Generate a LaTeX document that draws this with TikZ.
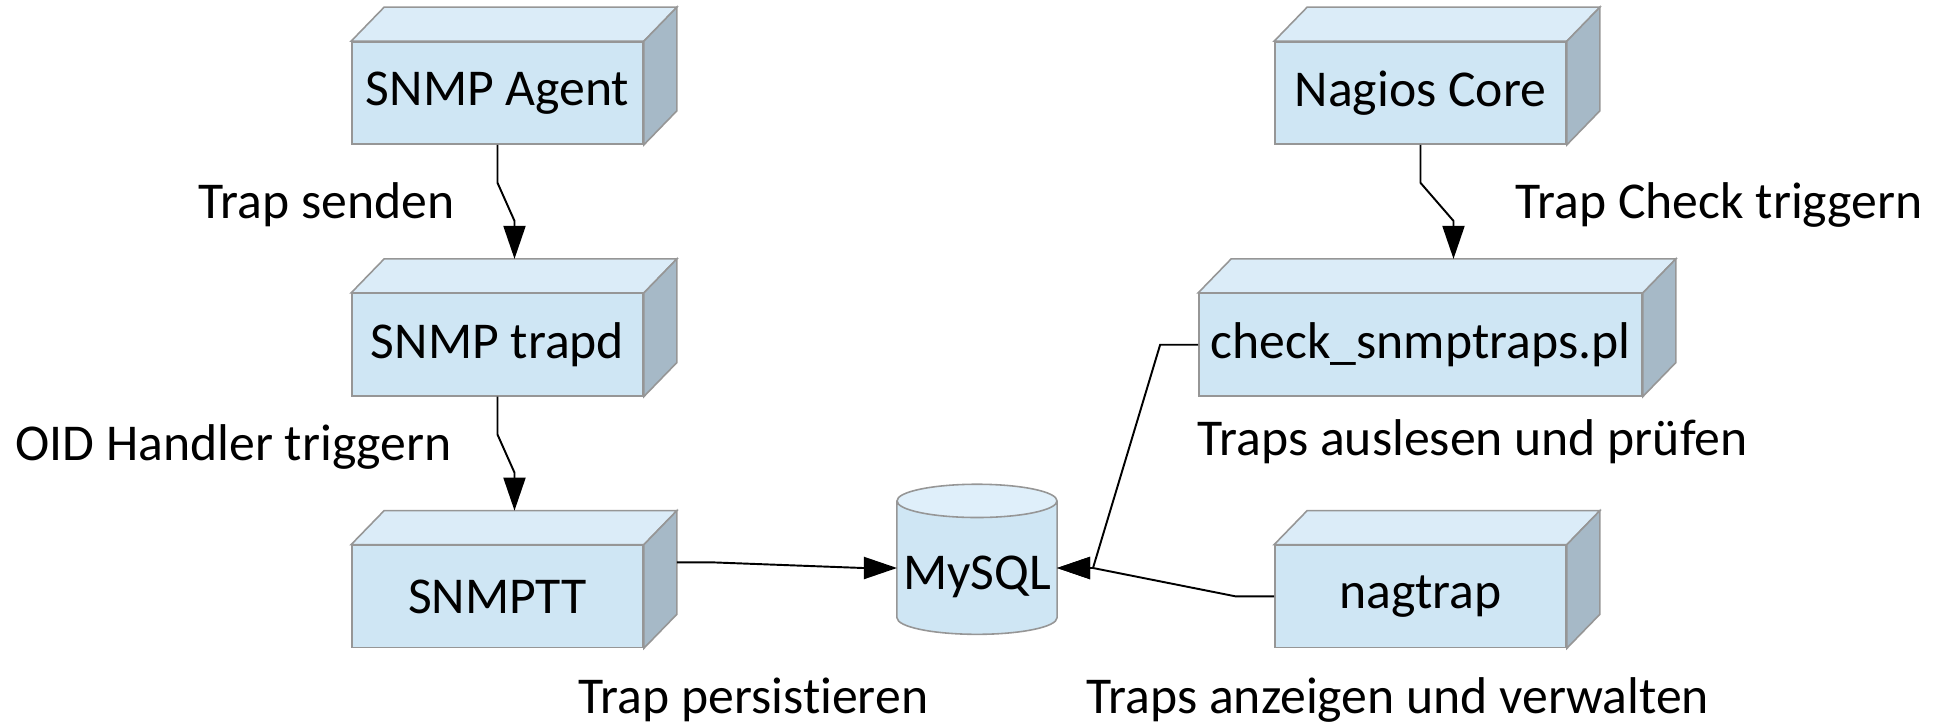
\documentclass[tikz,border=0pt]{standalone}
\usepackage{fontspec}
\setmainfont{Carlito}[Ligatures=NoCommon]
\usepackage{tikz}
\usetikzlibrary{positioning, arrows.meta, shapes.geometric}
\definecolor{boxfront}{RGB}{207,230,244}
\definecolor{boxtop}{RGB}{219,236,248}
\definecolor{boxside}{RGB}{166,185,199}
\definecolor{boxline}{RGB}{150,150,150}
\definecolor{dbtop}{RGB}{223,239,250}
\tikzset{
x=0.01cm, y=-0.01cm, % one unit is one pixel of the sketch, y runs downwards
>={Triangle[length=3.3mm, width=2.2mm]}, % big filled arrow heads
node distance=1.48cm, % gap between two blocks of one column
wire/.style={line width=0.55pt}, % the connectors
face/.style={draw=boxline, line width=0.45pt}, % top and side of a block
box/.style={face, fill=boxfront, minimum width=2.91cm, minimum height=1.02cm, font=\fontsize{14.7}{17}\selectfont}, % front of a block
db/.style={cylinder, shape border rotate=90, aspect=0.225, face, cylinder uses custom fill, cylinder body fill=boxfront, cylinder end fill=dbtop, minimum width=1.6cm, minimum height=1.5cm, inner sep=0pt, text height=15pt, text depth=3pt, font=\fontsize{14.7}{17}\selectfont}, % the database
arrowtext/.style={font=\fontsize{14.7}{17}\selectfont, inner sep=0pt, anchor=base west}, % texts beside the arrows
}
\begin{document}
\begin{tikzpicture}
\useasboundingbox (0,0) rectangle (1941,727);

\node[box] (agent) at (497.5,93) {SNMP Agent};
\node[box, below=of agent] (trapd) {SNMP trapd};
\node[box, below=of trapd] (snmptt) {SNMPTT};
\node[box] (nagios) at (1420.5,93) {Nagios Core};
\node[box, below=of nagios, minimum width=4.28cm] (check) {check\_snmptraps.pl};
\node[box, below=of check] (nagtrap) {nagtrap};
\node[db] (mysql) at (977,568) {MySQL};

% top and side of each block
\foreach \b in {agent, trapd, snmptt, nagios, check, nagtrap} {
  \draw[face, fill=boxtop] (\b.north west) -- ++(33,-34) -- ([shift={(33,-34)}]\b.north east) -- (\b.north east) -- cycle;
  \draw[face, fill=boxside] (\b.north east) -- ++(33,-34) -- ([shift={(33,-34)}]\b.south east) -- (\b.south east) -- cycle;
}

\draw[->, wire] (agent.south) -- ++(0,38) -- ([shift={(17,-72)}]trapd.north) -- ([shift={(17,-34)}]trapd.north);
\draw[->, wire] (trapd.south) -- ++(0,38) -- ([shift={(17,-72)}]snmptt.north) -- ([shift={(17,-34)}]snmptt.north);
\draw[->, wire] (nagios.south) -- ++(0,38) -- ([shift={(33,-72)}]check.north) -- ([shift={(33,-34)}]check.north);
\draw[->, wire] ([shift={(33,-34)}]snmptt.east) -- ++(38,0) -- ([shift={(-114,0)}]mysql.center) -- ([shift={(-80,0)}]mysql.center);
\draw[->, wire] (check.west) -- ++(-38,0) -- ([shift={(116,0)}]mysql.center) -- ([shift={(80,0)}]mysql.center);
\draw[->, wire] (nagtrap.west) -- ++(-38,0) -- ([shift={(116,0)}]mysql.center) -- ([shift={(80,0)}]mysql.center);

\node[arrowtext] (sendtext) at (198,218) {Trap senden};
\node[arrowtext] (oidtext) at (15,460) {OID Handler triggern};
\node[arrowtext] (persisttext) at (578,713) {Trap persistieren};
\node[arrowtext] (checktext) at (1515,218) {Trap Check triggern};
\node[arrowtext] (readtext) at (1197,455) {Traps auslesen und prüfen};
\node[arrowtext] (showtext) at (1086,713) {Traps anzeigen und verwalten};
\end{tikzpicture}
\end{document}
